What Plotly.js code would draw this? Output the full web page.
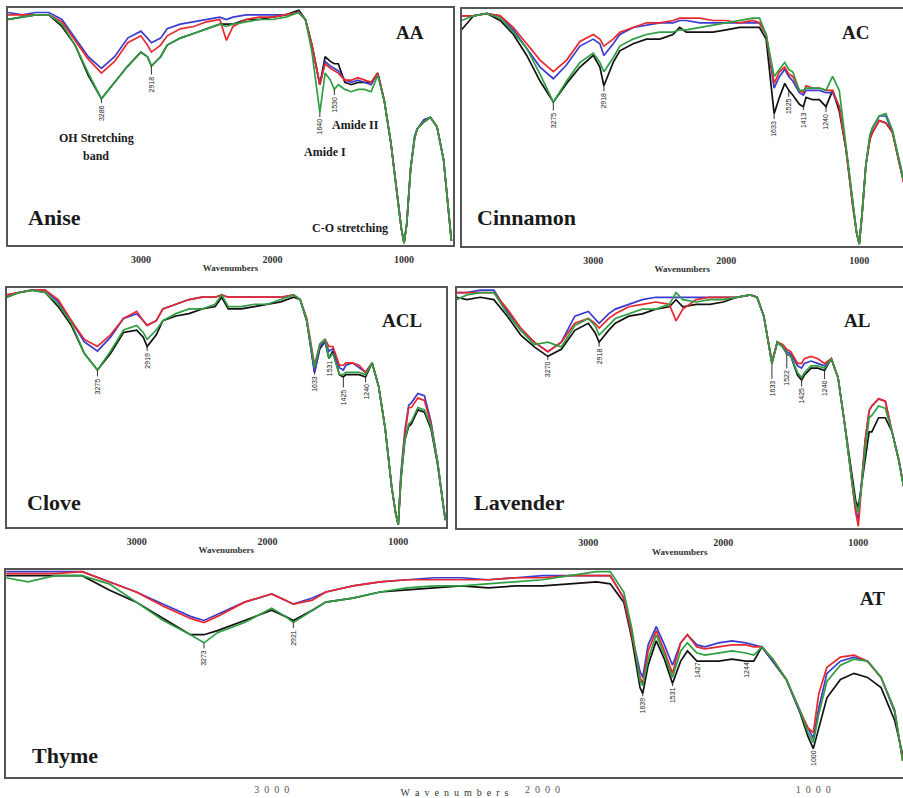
<!DOCTYPE html>
<html><head><meta charset="utf-8">
<script src="https://cdn.plot.ly/plotly-3.0.1.min.js"></script>
<style>html,body{margin:0;padding:0;background:#fff}</style>
</head><body><div id="chart" style="width:903px;height:798px"></div>
<script>
// ---------------- DATA (transmittance, arbitrary % scale) ----------------
const WN_AA = [4010,3900,3800,3700,3600,3500,3400,3300,3200,3100,3000,2950,2920,2850,2800,2700,2600,2500,2400,2350,2300,2200,2100,2000,1900,1800,1750,1700,1640,1600,1560,1530,1500,1450,1400,1350,1300,1250,1200,1150,1100,1050,1020,1000,980,950,920,900,850,800,750,700,660,640];
const BLACK_AA = [96,97,98,98,93,85,72,62,69,76,82,80,76,80,85,88,90,92,94,94,94,96,96,97,98,100,96,85,68,80,78,77,77,69,68,69,69,69,73,61,43,19,6,0,8,32,45,49,52,54,50,36,12,1];
const BLUE_AA  = [99,98,99,99,96,88,80,75,80,88,91,88,86,88,92,94,95,96,97,96,97,98,98,98,98,99,96,85,68,78,76,75,74,70,69,70,69,68,73,61,43,19,6,0,8,32,46,49,53,54,50,36,12,1];
const RED_AA   = [98,98,98,98,95,87,79,73,78,86,89,85,82,85,89,92,93,95,96,87,93,96,97,97,98,99,96,85,68,77,75,74,73,70,70,71,70,69,73,61,43,19,6,0,8,32,45,49,52,54,50,36,12,1];
const GREEN_AA = [96,97,98,98,94,85,73,62,69,76,82,80,76,80,85,88,90,92,94,93,94,95,96,96,97,99,96,82,56,73,70,66,68,66,65,66,66,65,72,61,43,19,6,0,8,32,45,49,52,54,50,36,12,1];

const WN_AC = [3990,3900,3800,3700,3600,3500,3400,3300,3200,3100,3000,2950,2920,2850,2800,2700,2600,2500,2400,2350,2300,2200,2100,2000,1900,1800,1750,1700,1640,1600,1560,1530,1500,1450,1420,1400,1350,1300,1250,1200,1150,1100,1050,1020,1000,980,950,920,900,850,800,750,700,660];
const BLACK_AC = [92,98,99,96,90,81,70,61,69,76,81,76,68,78,83,86,88,88,90,93,91,91,91,92,93,93,93,88,56,63,69,66,64,60,59,63,62,62,59,66,57,41,17,5,0,12,34,45,48,53,52,48,35,25];
const BLUE_AC  = [98,98,99,98,92,84,76,71,77,85,88,86,81,86,90,93,94,95,95,96,96,95,95,95,95,95,95,90,67,72,75,72,70,65,64,66,66,66,65,65,59,41,17,5,0,12,34,46,50,55,55,48,36,26];
const RED_AC   = [98,98,99,98,93,86,79,74,79,87,90,88,85,88,91,93,95,95,96,97,97,97,96,96,95,96,95,90,69,74,76,73,72,66,65,68,67,67,66,66,59,41,17,5,0,12,34,45,48,53,52,48,35,25];
const GREEN_AC = [96,98,99,97,91,84,73,61,70,78,82,78,74,80,85,88,90,91,91,92,92,93,94,95,96,97,97,90,72,75,78,75,74,66,66,67,67,67,66,72,66,42,17,5,0,12,34,47,50,55,56,49,36,26];

const WN_ACL = [3994,3900,3800,3700,3600,3500,3400,3300,3200,3100,3000,2950,2920,2850,2800,2700,2600,2500,2400,2350,2300,2200,2100,2000,1900,1800,1750,1700,1640,1600,1560,1530,1500,1450,1420,1400,1350,1300,1250,1200,1150,1100,1050,1020,1000,980,950,920,900,850,800,750,700,660,640];
const BLACK_ACL = [97,99,100,99,93,85,73,66,73,82,83,80,76,81,87,89,90,92,93,97,92,92,93,94,95,97,96,87,65,75,78,71,74,64,63,64,64,64,63,69,59,41,16,5,0,19,36,42,43,49,48,41,26,9,2];
const BLUE_ACL  = [98,99,100,100,95,87,78,74,80,88,90,87,85,87,92,94,96,97,97,98,97,97,97,97,97,98,96,87,65,76,78,74,75,67,66,68,69,67,65,69,59,41,16,5,0,22,40,51,52,56,55,44,27,10,2];
const RED_ACL   = [98,99,100,100,96,87,79,76,81,88,91,87,85,87,92,94,96,97,97,98,97,97,97,97,97,98,96,88,68,77,79,76,76,68,68,69,69,68,65,69,59,41,16,5,0,20,38,50,50,54,53,43,27,10,2];
const GREEN_ACL = [97,99,100,99,94,86,73,66,74,83,85,82,79,83,87,90,92,92,94,98,93,93,94,94,96,98,96,87,67,77,79,71,73,64,64,65,65,65,64,69,59,41,16,5,0,20,36,43,44,50,49,42,27,9,2];

const WN_AL = [3975,3900,3800,3700,3600,3500,3400,3300,3200,3100,3000,2950,2920,2850,2800,2700,2600,2500,2400,2350,2300,2200,2100,2000,1900,1800,1750,1700,1640,1600,1560,1530,1500,1450,1420,1400,1350,1300,1250,1200,1150,1100,1050,1020,1000,980,950,920,900,850,800,750,700,665];
const BLACK_AL = [97,96,97,96,89,81,76,72,75,83,86,82,78,83,86,89,90,92,93,96,93,94,94,95,97,98,97,89,69,78,76,73,72,64,62,64,67,67,66,71,63,43,21,11,8,17,28,40,40,46,46,40,28,17];
const BLUE_AL  = [99,99,100,100,91,83,78,74,78,89,91,88,86,90,92,94,96,97,97,97,97,97,97,97,97,98,97,89,69,78,76,74,73,68,67,69,70,69,68,71,63,43,19,7,3,17,36,49,51,54,53,40,28,17];
const RED_AL   = [99,99,99,99,92,84,78,74,78,86,88,86,84,88,90,93,94,95,94,87,92,96,97,97,97,98,97,89,70,78,77,75,74,69,69,71,72,71,69,71,63,43,19,6,0,15,36,49,51,54,53,40,28,17];
const GREEN_AL = [96,98,99,99,90,83,77,78,76,85,88,85,81,85,88,90,92,92,94,99,96,95,96,96,97,98,97,89,69,78,76,73,72,65,63,65,68,68,67,71,63,43,20,9,6,15,32,46,47,51,50,40,28,17];

const WN_AT = [3980,3900,3800,3700,3600,3500,3400,3300,3250,3200,3100,3000,2950,2920,2850,2800,2700,2600,2500,2400,2300,2200,2100,2000,1900,1800,1750,1700,1670,1640,1630,1610,1580,1550,1520,1490,1465,1430,1400,1350,1300,1250,1220,1190,1150,1100,1050,1020,1000,980,950,900,850,800,750,700,670];
const BLACK_AT = [98,98,98,98,91,85,77,69,69,71,76,81,78,76,81,85,87,90,91,92,93,92,93,93,94,95,94,85,67,43,40,54,66,57,45,56,61,56,56,56,57,56,56,63,56,47,31,19,13,23,38,47,50,48,43,27,10];
const BLUE_AT  = [100,100,100,100,95,90,84,78,76,79,85,89,86,84,87,90,93,95,96,97,97,96,97,98,98,98,98,87,69,51,48,64,73,64,54,65,69,64,63,65,66,65,64,63,56,47,31,23,18,33,50,56,58,56,48,31,7];
const RED_AT   = [99,99,99,100,95,90,83,77,75,78,85,89,86,84,86,90,93,95,96,96,96,96,97,97,98,98,98,87,69,48,45,61,71,61,50,65,69,63,62,63,64,64,63,63,57,47,32,23,21,40,53,58,59,56,48,32,7];
const GREEN_AT = [97,95,98,98,94,85,76,69,65,70,75,82,78,75,81,85,87,90,92,93,93,94,95,96,98,100,100,90,72,46,44,57,69,59,48,61,65,60,59,60,61,60,59,63,57,47,32,21,16,30,46,54,57,56,48,32,7];

const TICK_VALS = [3000, 2000, 1000];
const TICK_TEXT = ['3000', '2000', '1000'];
const TICK_TEXT_AT = ['3\u00a0\u00a00\u00a0\u00a00\u00a0\u00a00', '2\u00a0\u00a00\u00a0\u00a00\u00a0\u00a00', '1\u00a0\u00a00\u00a0\u00a00\u00a0\u00a00'];

const PEAKS_AA  = {text: ['3286','2918','1640','1530'], wn: [3300,2920,1640,1530]};
const PEAKS_AC  = {text: ['3275','2918','1633','1525','1413','1240'], wn: [3300,2920,1640,1530,1420,1250]};
const PEAKS_ACL = {text: ['3275','2919','1633','1531','1425','1240'], wn: [3300,2920,1640,1530,1420,1250]};
const PEAKS_AL  = {text: ['3270','2918','1633','1522','1425','1240'], wn: [3300,2920,1640,1530,1420,1250]};
const PEAKS_AT  = {text: ['3273','2921','1639','1531','1427','1244','1000'], wn: [3250,2920,1630,1520,1430,1250,1000]};

// ---------------- LAYOUT / STYLE ----------------
const W = 903, H = 798;
const px = x => x / W, py = y => 1 - y / H;
const COLORS = ['#111111', '#3b3bd0', '#e8282c', '#2f9e42'];
const SERIES_NAMES = ['Black', 'Blue', 'Red', 'Green'];

const panels = [
  {id: '', wn: WN_AA, s: [BLACK_AA, BLUE_AA, RED_AA, GREEN_AA], box: [8, 453, 8.3, 245], range: [4010, 628],
   peaks: PEAKS_AA, ay: [14, 18, 14, 15], ticks: TICK_TEXT, title: '<b>Wavenumbers</b>'},
  {id: '2', wn: WN_AC, s: [BLACK_AC, BLUE_AC, RED_AC, GREEN_AC], box: [461.7, 903, 9.3, 246], range: [3989, 671],
   peaks: PEAKS_AC, ay: [18, 15, 15, 16, 13, 15], ticks: TICK_TEXT, title: '<b>Wavenumbers</b>'},
  {id: '3', wn: WN_ACL, s: [BLACK_ACL, BLUE_ACL, RED_ACL, GREEN_ACL], box: [6.7, 446, 288.3, 526.7], range: [3994, 635],
   peaks: PEAKS_ACL, ay: [16, 14, 12, 10, 20, 15], ticks: TICK_TEXT, title: '<b>Wavenumbers</b>'},
  {id: '4', wn: WN_AL, s: [BLACK_AL, BLUE_AL, RED_AL, GREEN_AL], box: [456.7, 903, 288.3, 528.3], range: [3975, 669],
   peaks: PEAKS_AL, ay: [13, 14, 25, 24, 16, 18], ticks: TICK_TEXT, title: '<b>Wavenumbers</b>'},
  {id: '5', wn: WN_AT, s: [BLACK_AT, BLUE_AT, RED_AT, GREEN_AT], box: [6, 903, 570, 776.7], range: [3981, 669],
   peaks: PEAKS_AT, ay: [15, 15, 12, 12, 9, 9, 9], ticks: TICK_TEXT_AT,
   title: 'W\u00a0\u00a0a\u00a0\u00a0v\u00a0\u00a0e\u00a0\u00a0n\u00a0\u00a0u\u00a0\u00a0m\u00a0\u00a0b\u00a0\u00a0e\u00a0\u00a0r\u00a0\u00a0s'}
];

const traces = [];
const layout = {
  width: W, height: H, margin: {l: 0, r: 0, t: 0, b: 0},
  paper_bgcolor: '#ffffff', plot_bgcolor: '#ffffff', showlegend: false,
  annotations: [], font: {family: 'Liberation Serif', color: '#222'}
};

panels.forEach((p, pi) => {
  const xa = 'x' + p.id, ya = 'y' + p.id;
  p.s.forEach((ys, k) => {
    traces.push({type: 'scatter', mode: 'lines', x: p.wn, y: ys, xaxis: xa, yaxis: ya,
      name: SERIES_NAMES[k], line: {color: COLORS[k], width: 1.7}, hoverinfo: 'skip'});
  });
  const last = pi === 4;
  layout['xaxis' + p.id] = {
    domain: [px(p.box[0]), Math.min(1, px(p.box[1]))], anchor: ya, range: p.range,
    showgrid: false, zeroline: false, showline: true, mirror: true, linecolor: '#555', linewidth: 2,
    ticks: '', tickvals: TICK_VALS, ticktext: p.ticks, ticklabelstandoff: last ? 2 : 4,
    tickfont: {family: 'Liberation Serif', size: 10, color: last ? '#555' : '#333', weight: last ? 'normal' : 'bold'},
    title: {text: p.title, standoff: last ? 4 : 1, font: {family: 'Liberation Serif', size: last ? 10 : 9, color: '#333'}}
  };
  layout['yaxis' + p.id] = {
    domain: [py(p.box[3]), py(p.box[2])], anchor: xa, range: [-0.8, 100.8],
    showgrid: false, zeroline: false, showline: true, mirror: true, linecolor: '#555', linewidth: 2,
    showticklabels: false, ticks: ''
  };
  // peak labels tied to the data minimum at that wavenumber
  p.peaks.text.forEach((t, j) => {
    const idx = p.wn.indexOf(p.peaks.wn[j]);
    const yv = Math.min(...p.s.map(s => s[idx]));
    layout.annotations.push({xref: xa, yref: ya, x: p.peaks.wn[j], y: yv, text: t, textangle: -90,
      showarrow: true, arrowhead: 0, arrowwidth: 1, arrowcolor: '#333', ax: 0, ay: p.ay[j],
      font: {family: 'Liberation Sans', size: 7, color: '#222'}});
  });
});

function lab(text, x, y, size, anchor) {
  layout.annotations.push({xref: 'paper', yref: 'paper', x: px(x), y: py(y), text: text,
    showarrow: false, xanchor: anchor || 'center', yanchor: 'middle',
    font: {family: 'Liberation Serif', size: size, color: '#1a1a1a'}});
}
lab('<b>AA</b>', 410, 33, 19);
lab('<b>AC</b>', 855, 33, 19);
lab('<b>ACL</b>', 402, 320, 19);
lab('<b>AL</b>', 857, 320, 19);
lab('<b>AT</b>', 872, 598, 19);
lab('<b>Anise</b>', 26, 218, 22, 'left');
lab('<b>Cinnamon</b>', 475, 218, 22, 'left');
lab('<b>Clove</b>', 25, 502, 22, 'left');
lab('<b>Lavender</b>', 472, 502, 22, 'left');
lab('<b>Thyme</b>', 30, 755, 22, 'left');
lab('<b>OH Stretching</b>', 96, 138, 12);
lab('<b>band</b>', 96, 156, 12);
lab('<b>Amide II</b>', 355, 125, 12);
lab('<b>Amide I</b>', 325, 152, 12);
lab('<b>C-O stretching</b>', 350, 228, 12);

Plotly.newPlot('chart', traces, layout, {displayModeBar: false, staticPlot: true});
</script></body></html>
